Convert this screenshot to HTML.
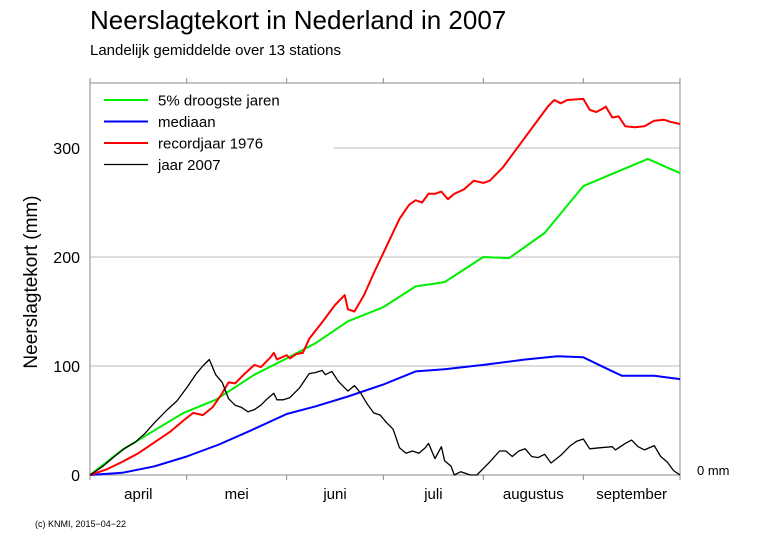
<!DOCTYPE html>
<html><head><meta charset="utf-8"><style>
body{margin:0;background:#fff;font-family:"Liberation Sans",sans-serif}
svg text{font-family:"Liberation Sans",sans-serif}
</style></head><body>
<svg width="766" height="541" viewBox="0 0 766 541">
<g id="g"></g>
</svg>
<script>
const monthLabels=["april","mei","juni","juli","augustus","september"];
const monthStarts=[0,30,61,91,122,153,183];
const yTicks=[0,100,200,300];
const greenDays=[0,10,20,29,39,51,61,70,80,91,101,110,122,130,141,153,165,173,183];
const greenVals=[0,23,41,57,69,92,107,121,141,154,173,177,200,199,222,265,280,290,277];
const blueDays=[0,10,20,30,40,50,61,70,80,91,101,110,122,135,145,153,160,165,175,183];
const blueVals=[0,2,8,17,28,41,56,63,72,83,95,97,101,106,109,108,98,91,91,88];
const redDays=[0,5,10,15,20,25,29,32,35,38,41,43,45,48,51,53,56,57,58,61,62,64,66,68,72,76,79,80,82,85,88,92,96,99,101,103,105,107,109,111,113,116,119,122,124,128,132,137,142,144,146,148,153,155,157,159,160,162,164,166,169,172,175,178,180,183];
const redVals=[0,5,12,20,30,40,50,57,55,62,75,85,84,93,101,99,108,112,106,110,107,111,112,125,140,156,165,152,150,165,185,210,235,248,252,250,258,258,260,253,258,262,270,268,270,282,298,318,338,344,341,344,345,335,333,336,338,328,329,320,319,320,325,326,324,322];
const blackDays=[0,4,8,11,14,17,20,24,27,30,33,35,37,39,41,43,45,47,49,51,53,55,57,58,60,62,65,68,70,72,73,75,77,79,80,82,84,86,88,90,92,94,96,98,100,102,104,105,107,109,110,112,113,115,118,120,124,127,129,131,133,135,137,139,141,143,146,149,151,153,155,158,162,163,166,168,170,172,175,177,179,181,183];
const blackVals=[0,8,18,25,30,38,48,60,68,80,93,100,106,92,85,70,64,62,58,60,64,70,75,69,69,71,80,93,94,96,92,95,86,80,77,82,75,65,57,55,48,42,25,20,22,20,25,29,15,26,13,8,0,3,0,0,12,22,22,17,22,24,17,16,19,11,18,27,31,33,24,25,26,23,29,32,26,23,27,17,12,4,0];
const L=90,R=680,Y0=475,PX=1.09;
const xs=d=>L+d*(R-L)/183, ys=v=>Y0-v*PX;
const g=document.getElementById('g'),NS="http://www.w3.org/2000/svg";
function mk(t,a,txt){const e=document.createElementNS(NS,t);for(const k in a)e.setAttribute(k,a[k]);if(txt!==undefined)e.textContent=txt;g.appendChild(e);return e;}
let e;
e=mk('rect',{x:L,y:83,width:R-L,height:Y0-83,fill:'none',stroke:'#888','stroke-width':1});


yTicks.forEach(v=>{
 if(v>0){e=mk('line',{x1:L,x2:R,y1:ys(v),y2:ys(v),stroke:'#bbb','stroke-width':1});
 
 }
 e=mk('text',{x:80,y:ys(v)+6,'text-anchor':'end','font-size':16},String(v));
 
 
});
monthStarts.forEach((d,i)=>{
 e=mk('line',{x1:xs(d),x2:xs(d),y1:Y0,y2:Y0+5,stroke:'#888'});
 
 
 e=mk('line',{x1:xs(d),x2:xs(d),y1:83,y2:78,stroke:'#888'});
 
 
 if(i<monthLabels.length){
 e=mk('text',{x:(xs(d)+xs(monthStarts[i+1]))/2,y:499,'text-anchor':'middle','font-size':15},monthLabels[i]);
 
 }
});
// legend background
e=mk('rect',{x:L+1,y:88,width:243,height:86,fill:'#fff'});


function series(days,vals,col,w,name){
 const p=days.map((d,i)=>(i?'L':'M')+xs(d).toFixed(1)+','+ys(vals[i]).toFixed(1)).join('');
 const el=mk('path',{d:p,fill:'none',stroke:col,'stroke-width':w,'stroke-linejoin':'round'});
 
 
}
series(blueDays,blueVals,'#0000ff',2,'line-mediaan');
series(greenDays,greenVals,'#00ee00',2,'line-5pct-droogste');
series(redDays,redVals,'#ff0000',2,'line-1976');
series(blackDays,blackVals,'#000',1.3,'line-2007');
const leg=[["5% droogste jaren","#00ee00",2],["mediaan","#0000ff",2],["recordjaar 1976","#ff0000",2],["jaar 2007","#000",1.3]];
leg.forEach((l,i)=>{const y=100+i*21.5;
 e=mk('line',{x1:104,x2:148,y1:y,y2:y,stroke:l[1],'stroke-width':l[2]});
 
 
 e=mk('text',{x:158,y:y+5.5,'font-size':15},l[0]);
 
 
});
e=mk('text',{x:90,y:29,'font-size':26},'Neerslagtekort in Nederland in 2007');


e=mk('text',{x:90,y:55,'font-size':15},'Landelijk gemiddelde over 13 stations');


e=mk('text',{x:0,y:0,'font-size':19,'text-anchor':'middle',transform:'translate(37,282) rotate(-90)'},'Neerslagtekort (mm)');


e=mk('text',{x:697,y:475,'font-size':13},'0 mm');


e=mk('text',{x:35,y:527,'font-size':9},'(c) KNMI, 2015\u221204\u221222');


</script>
</body></html>
